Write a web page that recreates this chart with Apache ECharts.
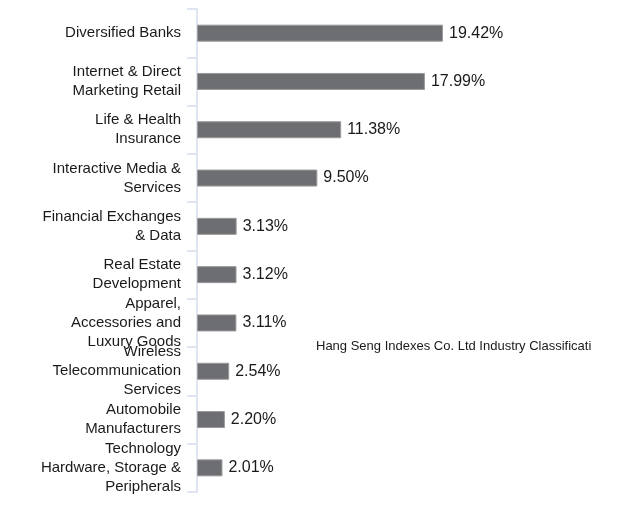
<!DOCTYPE html>
<html><head><meta charset="utf-8">
<script src="https://cdn.jsdelivr.net/npm/echarts@6/dist/echarts.min.js"></script>
<style>html,body{margin:0;padding:0;background:#fff}#c{width:625px;height:517px}</style>
</head><body><div id="c"></div>
<script>
const categories = [
  "Diversified Banks",
  "Internet & Direct\nMarketing Retail",
  "Life & Health\nInsurance",
  "Interactive Media &\nServices",
  "Financial Exchanges\n& Data",
  "Real Estate\nDevelopment",
  "Apparel,\nAccessories and\nLuxury Goods",
  "Wireless\nTelecommunication\nServices",
  "Automobile\nManufacturers",
  "Technology\nHardware, Storage &\nPeripherals"
];
const values = [19.42, 17.99, 11.38, 9.50, 3.13, 3.12, 3.11, 2.54, 2.20, 2.01];
const footnote = "Hang Seng Indexes Co. Ltd Industry Classificati";

const chart = echarts.init(document.getElementById('c'), null, {renderer: 'canvas'});
chart.setOption({
  animation: false,
  grid: {left: 197, top: 9, bottom: 25, width: 316.7, containLabel: false},
  xAxis: {type: 'value', min: 0, max: 25, show: false},
  yAxis: {
    type: 'category', inverse: true, data: categories,
    axisLine: {show: true, lineStyle: {color: '#D5DEEE', width: 1.5}},
    axisTick: {show: true, length: 10, lineStyle: {color: '#D5DEEE', width: 1.5}},
    axisLabel: {color: '#1a1a1a', fontSize: 15, fontFamily: 'Liberation Sans, Arial', lineHeight: 19, margin: 16, align: 'right', interval: 0, hideOverlap: false},
    splitLine: {show: false}
  },
  series: [{
    type: 'bar', data: values, barWidth: 17,
    itemStyle: {color: '#6D6E71', borderColor: '#9A9A9C', borderWidth: 1},
    label: {show: true, position: 'right', distance: 6, color: '#1a1a1a', fontSize: 16, fontFamily: 'Liberation Sans, Arial',
      formatter: p => p.value.toFixed(2) + '%'}
  }],
  graphic: [{type: 'text', left: 316, top: 340, style: {text: footnote, fontSize: 13, fontFamily: 'Liberation Sans, Arial', fill: '#1a1a1a'}}]
});
</script></body></html>
